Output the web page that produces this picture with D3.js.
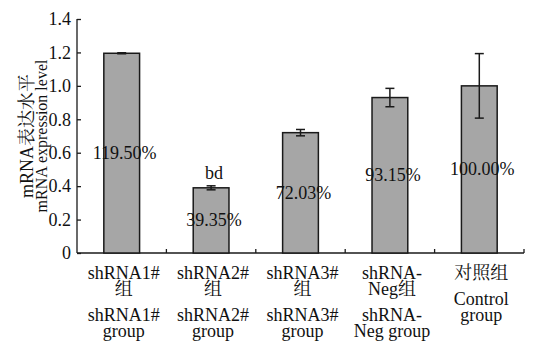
<!DOCTYPE html>
<html><head><meta charset="utf-8">
<script src="https://cdn.jsdelivr.net/npm/d3@7"></script>
<style>
html,body{margin:0;padding:0;background:#fff;}
</style></head>
<body>
<svg id="c" width="533" height="346"></svg>
<script>
const categories = ["shRNA1#", "shRNA2#", "shRNA3#", "shRNA-Neg", "Control"];
const values = [1.195, 0.39, 0.72, 0.93, 1.00];
const errors = [0.003, 0.012, 0.019, 0.055, 0.193];
const pctLabels = ["119.50%", "39.35%", "72.03%", "93.15%", "100.00%"];
const sigLabels = ["", "bd", "", "", ""];
const catZh = [["shRNA1#","组"],["shRNA2#","组"],["shRNA3#","组"],["shRNA-","Neg组"],["对照组"]];
const catEn = [["shRNA1#","group"],["shRNA2#","group"],["shRNA3#","group"],["shRNA-","Neg group"],["Control","group"]];
const yTicks = [0, 0.2, 0.4, 0.6, 0.8, 1.0, 1.2, 1.4];
const yTitle = ["mRNA表达水平", "mRNA expression level"];

const LATIN = '"Times New Roman", Tinos, "Liberation Serif", serif';
const CJK = '"Noto Serif CJK SC", serif';
const svg = d3.select("#c");
const L = 77, R = 524, T = 19, B = 253;
const y = d3.scaleLinear().domain([0, 1.4]).range([B, T]);
const x = d3.scaleBand().domain(categories).range([L, R]).paddingInner(0.6).paddingOuter(0.3);
const ink = "#1a1a1a";
const FS = 18;

function addText(parent, str) {
  const t = parent.append("text").style("font-family", LATIN).attr("fill", "#111");
  const runs = str.match(/[\u3400-\u9fff]+|[^\u3400-\u9fff]+/g) || [];
  runs.forEach(r => {
    const cjk = /[\u3400-\u9fff]/.test(r);
    t.append("tspan").style("font-family", cjk ? CJK : LATIN).text(r);
  });
  return t;
}

// y axis
const ya = svg.append("g").attr("transform", `translate(${L},0)`)
  .call(d3.axisLeft(y).tickValues(yTicks).tickSize(-4).tickPadding(6)
    .tickFormat(d => d === 0 ? "0" : d3.format(".1f")(d)));
ya.attr("font-family", null);
ya.selectAll("path,line").attr("stroke", ink).attr("stroke-width", 1.3);
ya.select(".domain").attr("d", `M0,${T}V${B}`);
ya.selectAll("text").style("font-family", LATIN).attr("fill", "#111").attr("font-size", FS);

// x axis
const step = x.step();
const gx = svg.append("g");
gx.append("line").attr("x1", L).attr("x2", R).attr("y1", B).attr("y2", B)
  .attr("stroke", ink).attr("stroke-width", 1.3);
gx.selectAll("line.t").data(categories).enter().append("line").attr("class", "t")
  .attr("x1", d => x(d) + x.bandwidth() / 2 + step / 2)
  .attr("x2", d => x(d) + x.bandwidth() / 2 + step / 2)
  .attr("y1", B).attr("y2", B - 4).attr("stroke", ink).attr("stroke-width", 1.3);

// bars
svg.selectAll("rect.bar").data(categories).enter().append("rect").attr("class", "bar")
  .attr("x", d => x(d)).attr("width", x.bandwidth())
  .attr("y", (d, i) => y(values[i])).attr("height", (d, i) => B - y(values[i]))
  .attr("fill", "#a6a6a6").attr("stroke", ink).attr("stroke-width", 1.5);

// error bars
const eb = svg.append("g");
categories.forEach((c, i) => {
  const cx = x(c) + x.bandwidth() / 2;
  const y0 = y(values[i] - errors[i]), y1 = y(values[i] + errors[i]);
  eb.append("line").attr("x1", cx).attr("x2", cx).attr("y1", y0).attr("y2", y1)
    .attr("stroke", ink).attr("stroke-width", 1.5);
  [y0, y1].forEach(yy => eb.append("line").attr("x1", cx - 4.5).attr("x2", cx + 4.5)
    .attr("y1", yy).attr("y2", yy).attr("stroke", ink).attr("stroke-width", 1.5));
});

// percentage and significance labels
categories.forEach((c, i) => {
  const cx = x(c) + x.bandwidth() / 2 + 3;
  addText(svg, pctLabels[i]).attr("x", cx).attr("y", y(values[i] / 2) + 6)
    .attr("text-anchor", "middle").attr("font-size", FS);
  if (sigLabels[i]) addText(svg, sigLabels[i]).attr("x", cx)
    .attr("y", y(values[i] + errors[i]) - 7)
    .attr("text-anchor", "middle").attr("font-size", FS);
});

// category labels
categories.forEach((c, i) => {
  const cx = x(c) + x.bandwidth() / 2 + 2;
  const g = svg.append("g");
  const y0 = 279, lh = 16, gap = 26;
  catZh[i].forEach((t, k) => {
    addText(g, t).attr("x", cx).attr("y", y0 + k * lh).attr("text-anchor", "middle").attr("font-size", FS);
  });
  const ye = y0 + (catZh[i].length - 1) * lh + gap;
  catEn[i].forEach((t, k) => {
    addText(g, t).attr("x", cx).attr("y", ye + k * lh).attr("text-anchor", "middle").attr("font-size", FS);
  });
});

// y title
const midY = (T + B) / 2;
const titleX = [33, 47], titleFS = [18, 16];
yTitle.forEach((t, k) => {
  addText(svg, t).attr("transform", `translate(${titleX[k]},${midY}) rotate(-90)`)
    .attr("text-anchor", "middle").attr("font-size", titleFS[k]);
});
</script></body></html>
